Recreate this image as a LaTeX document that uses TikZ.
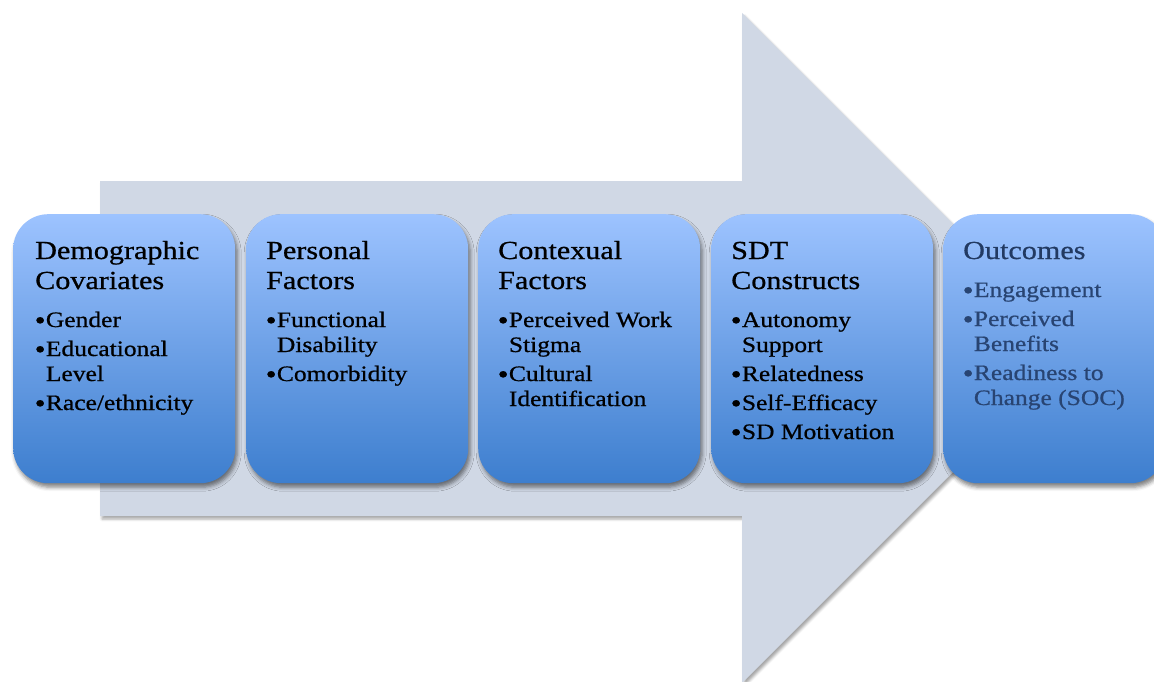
\documentclass[tikz,border=0pt]{standalone}
\usepackage{fontspec}
\setmainfont{Liberation Serif}[FakeStretch=1.16,FakeBold=0.7]
\usetikzlibrary{shadows.blur}

\definecolor{arrowfill}{RGB}{208,216,229}
\definecolor{boxtop}{RGB}{157,195,255}
\definecolor{boxbot}{RGB}{61,126,206}
\definecolor{outtitle}{RGB}{34,58,98}
\definecolor{outitem}{RGB}{40,68,114}

% heading plus bullet list of one stage
\newcommand{\stagetext}[2]{\parbox[t]{215pt}{\raggedright
  \fontsize{26}{30}\selectfont #1\par\vspace{13pt}%
  \fontsize{22}{25}\selectfont #2}}
\newcommand{\bitem}[1]{\par\hangindent=10.7pt\hangafter=1\noindent
  \makebox[10.7pt][l]{\hspace{-0.5pt}\raisebox{-2.2pt}{\scalebox{1.22}{\textbullet}}}#1\par\vspace{4pt}}

\tikzset{
  stagebox/.style={rounded corners=35pt, top color=boxtop, bottom color=boxbot,
    minimum width=222pt, minimum height=269pt, inner sep=0pt, anchor=north west,
    blur shadow={shadow xshift=2pt, shadow yshift=-4pt, shadow blur radius=4pt, shadow opacity=50}},
  stagetxt/.style={anchor=base west, inner sep=0pt},
  bigarrow/.style={fill=arrowfill, draw=none,
    blur shadow={shadow xshift=2pt, shadow yshift=-3pt, shadow blur radius=2.5pt, shadow opacity=35}}
}

\begin{document}
\begin{tikzpicture}[x=1pt,y=-1pt]
\useasboundingbox (0,0) rectangle (1154,682);

% the broad process arrow behind the stages
\path[bigarrow] (100,181) -- (742,181) -- (742,13) -- (1077,348) -- (742,683)
  -- (742,516) -- (100,516) -- cycle;

% stage boxes
\node[stagebox] (b1) at (13,214) {};
\node[stagebox] (b2) at (246,214) {};
\node[stagebox] (b3) at (478,214) {};
\node[stagebox] (b4) at (711,214) {};
\node[stagebox] (b5) at (943,214) {};

% stage texts
\node[stagetxt] (t1) at (35,259) {\stagetext{Demographic\\Covariates}
  {\bitem{Gender}\bitem{Educational\newline Level}\bitem{Race/ethnicity}}};
\node[stagetxt] (t2) at (266,259) {\stagetext{Personal\\Factors}
  {\bitem{Functional\newline Disability}\bitem{Comorbidity}}};
\node[stagetxt] (t3) at (498,259) {\stagetext{Contexual\\Factors}
  {\bitem{Perceived Work\newline Stigma}\bitem{Cultural\newline Identification}}};
\node[stagetxt] (t4) at (731,259) {\stagetext{SDT\\Constructs}
  {\bitem{Autonomy\newline Support}\bitem{Relatedness}\bitem{Self-Efficacy}\bitem{SD Motivation}}};
\node[stagetxt, text=outitem] (t5) at (963,259) {\stagetext{\leavevmode\textcolor{outtitle}{Outcomes}}
  {\bitem{Engagement}\bitem{Perceived\newline Benefits}\bitem{Readiness to\newline Change (SOC)}}};
\end{tikzpicture}
\end{document}
